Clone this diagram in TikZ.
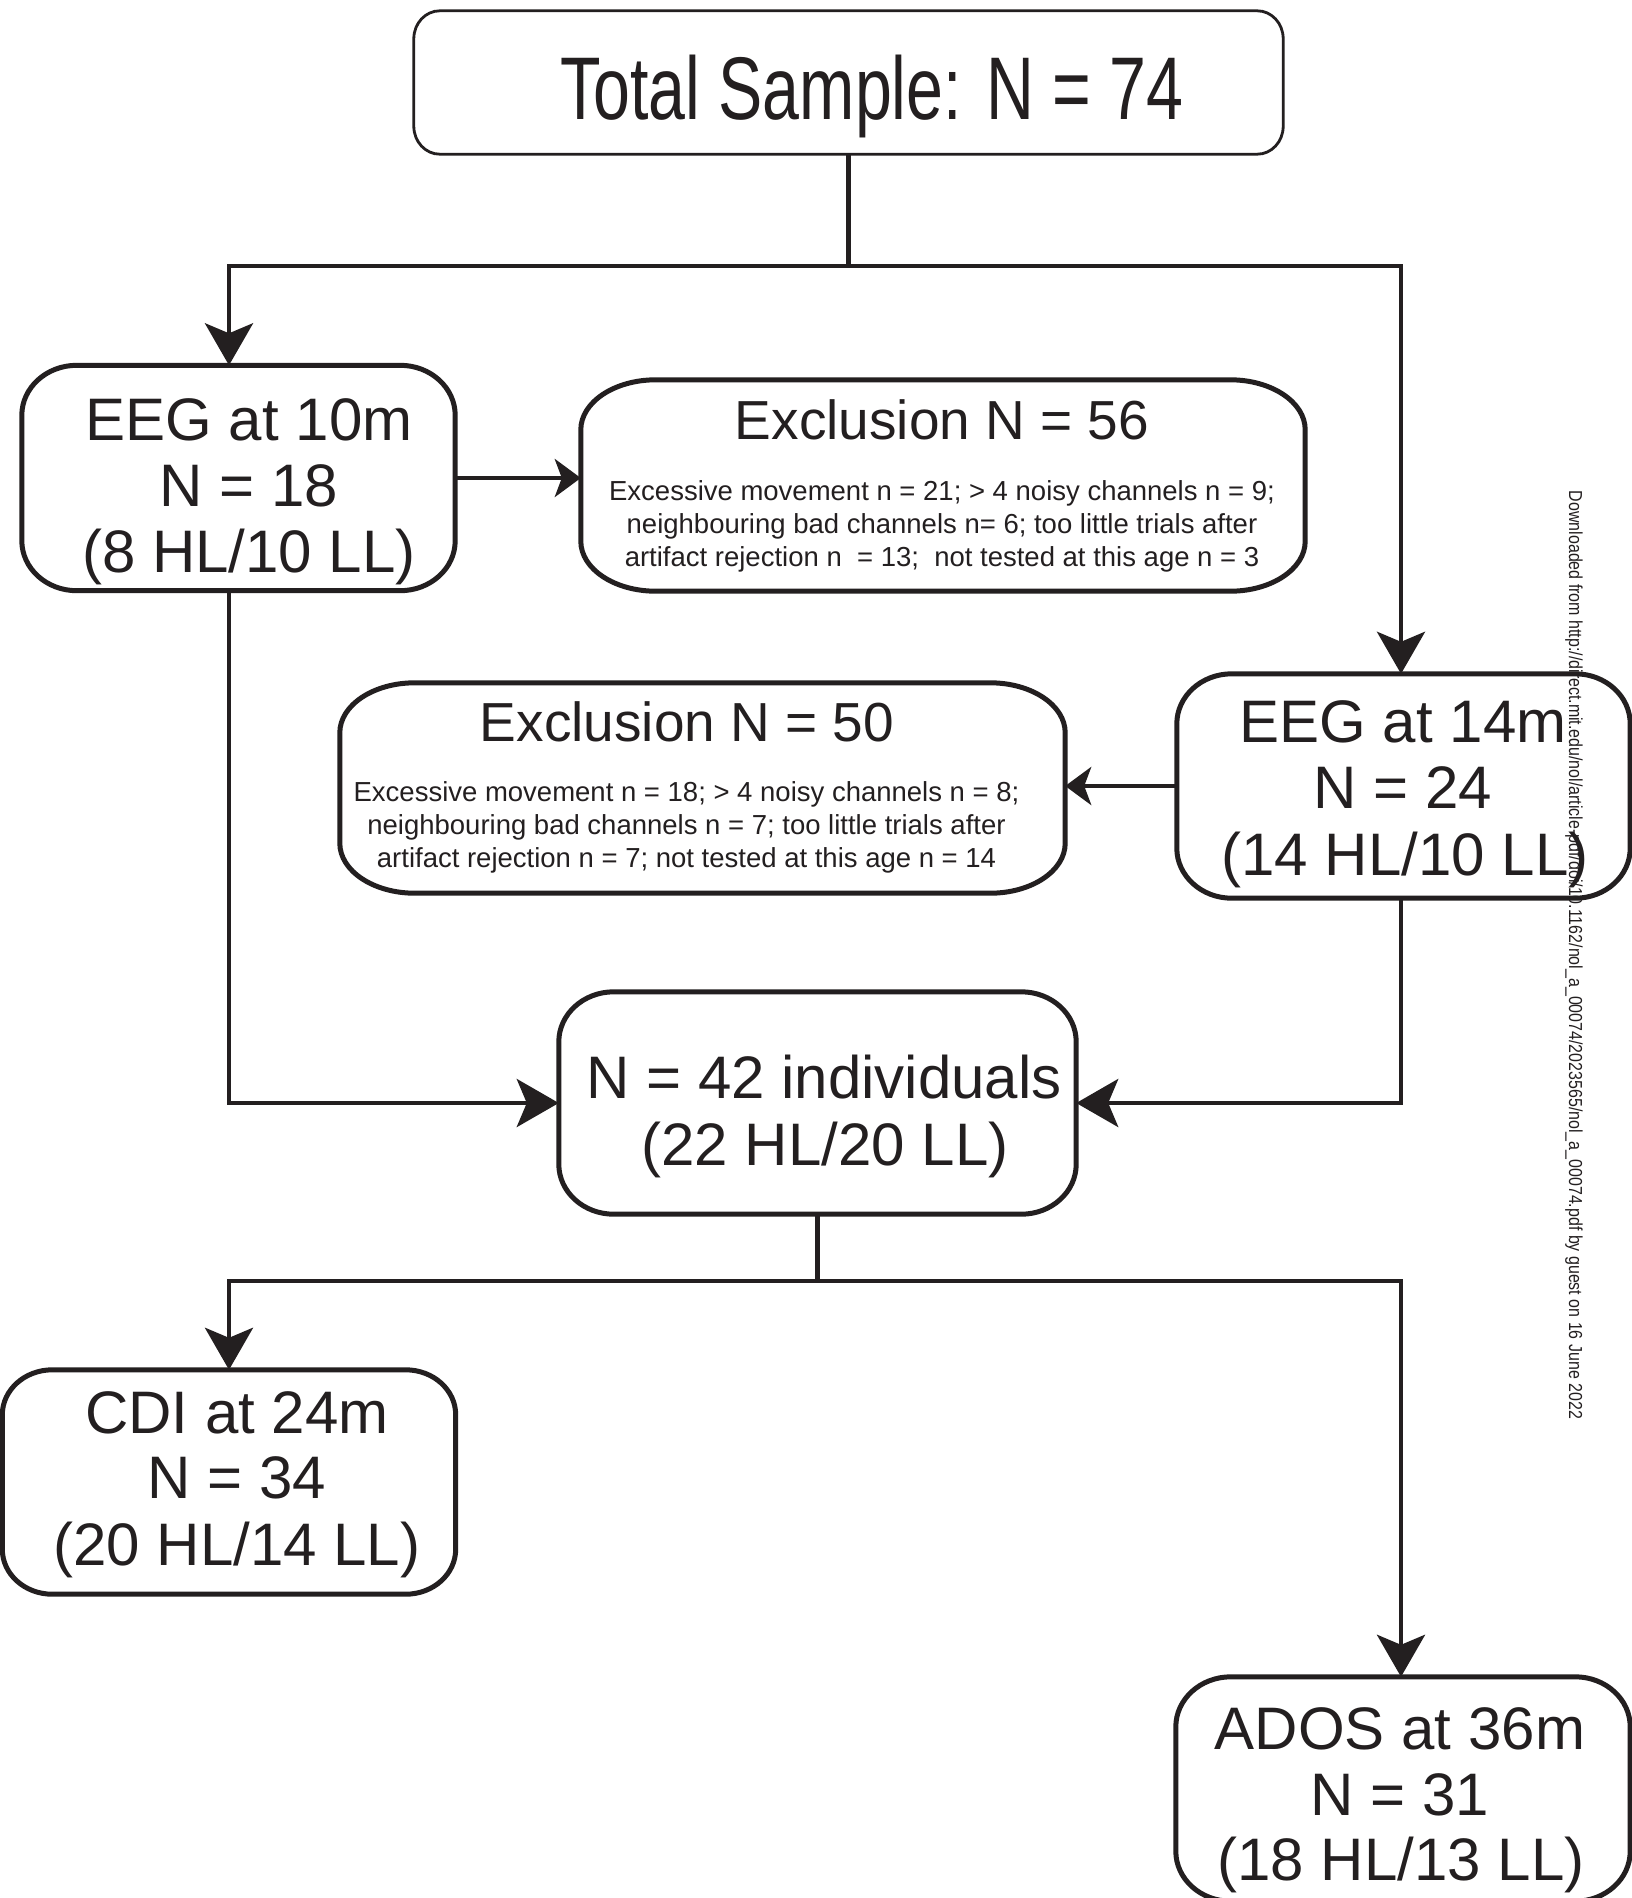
\documentclass[tikz,border=0pt]{standalone}
\usepackage{fontspec}
\setmainfont{Liberation Sans}
\newfontfamily\condfont[FakeStretch=0.745]{Liberation Sans}
\newfontfamily\wmfont[FakeStretch=0.85]{Liberation Sans}
\usetikzlibrary{arrows.meta}
\definecolor{ink}{RGB}{35,31,32}
\newcommand\ellbox[4]{% node, rx, ry, line width
  \draw[ink, line width=#4]
    ([xshift=#2]#1.north west) -- ([xshift=-#2]#1.north east)
    arc[start angle=90, end angle=0, x radius=#2, y radius=#3]
    -- ([yshift=#3]#1.south east)
    arc[start angle=0, end angle=-90, x radius=#2, y radius=#3]
    -- ([xshift=#2]#1.south west)
    arc[start angle=270, end angle=180, x radius=#2, y radius=#3]
    -- ([yshift=-#3]#1.north west)
    arc[start angle=180, end angle=90, x radius=#2, y radius=#3]
    -- cycle;}
\begin{document}
\begin{tikzpicture}[x=1pt, y=-1pt,
  boxshape/.style={draw=none, inner sep=0pt, minimum width=#1},
  bigtxt/.style={font=\fontsize{60}{66}\selectfont, anchor=base, text=ink, inner sep=0pt},
  ttltxt/.style={font=\fontsize{55}{60}\selectfont, anchor=base, text=ink, inner sep=0pt},
  smltxt/.style={font=\fontsize{27.5}{33}\selectfont, anchor=base, text=ink, inner sep=0pt},
  conn/.style={draw=ink, line width=4.5pt},
  bigarrow/.style={-{Stealth[length=42pt, width=48pt, inset=10pt]}},
  smallarrow/.style={-{Stealth[length=26pt, width=38pt, inset=7pt]}}
]
\useasboundingbox (0,0) rectangle (1632,1898);
\fill[white] (0,0) rectangle (1632,1898);

% ---- boxes ----
\node[boxshape=869pt, minimum height=143pt] (Total) at (848.5,82.5) {};
\node[boxshape=433pt, minimum height=225pt] (EEGa) at (238.5,478) {};
\node[boxshape=724pt, minimum height=211pt] (ExA) at (943,485.5) {};
\node[boxshape=453pt, minimum height=224pt] (EEGb) at (1403.5,786) {};
\node[boxshape=725pt, minimum height=210pt] (ExB) at (702.5,788) {};
\node[boxshape=517pt, minimum height=222pt] (Nind) at (817.5,1103) {};
\node[boxshape=453pt, minimum height=224pt] (CDI) at (229,1482) {};
\node[boxshape=454pt, minimum height=224pt] (ADOS) at (1403,1789) {};

\ellbox{Total}{26pt}{28pt}{2.8pt}
\ellbox{EEGa}{55pt}{50pt}{5pt}
\ellbox{ExA}{75pt}{50pt}{5pt}
\ellbox{EEGb}{55pt}{50pt}{5pt}
\ellbox{ExB}{75pt}{50pt}{5pt}
\ellbox{Nind}{55pt}{50pt}{5pt}
\ellbox{CDI}{50pt}{45pt}{5pt}
\ellbox{ADOS}{55pt}{50pt}{5pt}

% ---- texts ----
\node[anchor=base, text=ink, inner sep=0pt, font=\condfont\fontsize{89}{90}\selectfont] (t0) at (872,119) {Total Sample: N = 74};

\node[bigtxt] (a1) at (249,440) {EEG at 10m};
\node[bigtxt] (a2) at (249,506) {N = 18};
\node[bigtxt] (a3) at (249,572) {(8 HL/10 LL)};

\node[ttltxt] (x1) at (942,439) {Exclusion N = 56};
\node[smltxt] (x2) at (942,500) {Excessive movement n = 21; > 4 noisy channels n = 9;};
\node[smltxt] (x3) at (942,533) {neighbouring bad channels n= 6; too little trials after};
\node[smltxt] (x4) at (942,566) {artifact rejection n \ = 13; \ not tested at this age n = 3};

\node[bigtxt] (b1) at (1403,742) {EEG at 14m};
\node[bigtxt] (b2) at (1403,808) {N = 24};
\node[bigtxt] (b3) at (1405,875) {(14 HL/10 LL)};

\node[ttltxt] (y1) at (687,741) {Exclusion N = 50};
\node[smltxt] (y2) at (686.5,801) {Excessive movement n = 18; > 4 noisy channels n = 8;};
\node[smltxt] (y3) at (686.5,834) {neighbouring bad channels n = 7; too little trials after};
\node[smltxt] (y4) at (686.5,867) {artifact rejection n = 7; not tested at this age n = 14};

\node[bigtxt] (n1) at (824,1098) {N = 42 individuals};
\node[bigtxt] (n2) at (825,1165) {(22 HL/20 LL)};

\node[bigtxt] (c1) at (237,1433) {CDI at 24m};
\node[bigtxt] (c2) at (237,1498) {N = 34};
\node[bigtxt] (c3) at (237,1565) {(20 HL/14 LL)};

\node[bigtxt] (d1) at (1400,1749) {ADOS at 36m};
\node[bigtxt] (d2) at (1400,1815) {N = 31};
\node[bigtxt] (d3) at (1401,1880) {(18 HL/13 LL)};

% ---- connectors ----
\coordinate (j1) at (848.5,266);
\coordinate (jl) at (229,266);
\coordinate (jr) at (1401,266);
\coordinate (j2) at (817.5,1281);
\coordinate (kl) at (229,1281);
\coordinate (kr) at (1401,1281);

\draw[conn] (Total.south) -- (j1);
\draw[conn, bigarrow] (j1) -- (jl) -- (jl |- EEGa.north);
\draw[conn, bigarrow] (j1) -- (jr) -- (jr |- EEGb.north);
\draw[conn, smallarrow] (EEGa.east) -- (EEGa.east -| ExA.west);
\draw[conn, smallarrow] (EEGb.west) -- (EEGb.west -| ExB.east);
\draw[conn, bigarrow] (jl |- EEGa.south) |- (Nind.west);
\draw[conn, bigarrow] (jr |- EEGb.south) |- (Nind.east);
\draw[conn] (Nind.south) -- (j2);
\draw[conn, bigarrow] (j2) -- (kl) -- (kl |- CDI.north);
\draw[conn, bigarrow] (j2) -- (kr) -- (kr |- ADOS.north);

% ---- watermark ----
\node[rotate=-90, text=ink, inner sep=0pt, font=\wmfont\fontsize{18.8}{20}\selectfont] (wm) at (1574,955)
  {Downloaded from http://direct.mit.edu/nol/article-pdf/doi/10.1162/nol\_a\_00074/2023565/nol\_a\_00074.pdf by guest on 16 June 2022};
\end{tikzpicture}
\end{document}
